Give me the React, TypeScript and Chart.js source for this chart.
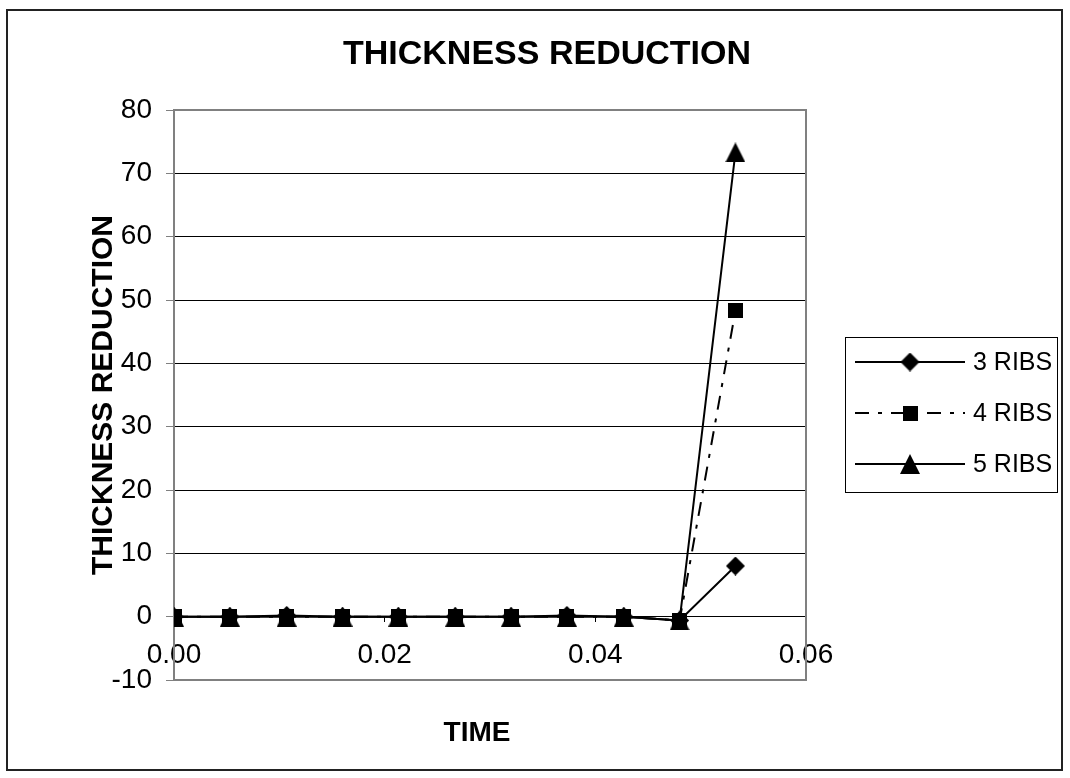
import React, { useEffect, useRef } from "react";
import { Chart, registerables } from "chart.js";

Chart.register(...registerables);

const TITLE = "THICKNESS REDUCTION";
const X_TITLE = "TIME";
const Y_TITLE = "THICKNESS REDUCTION";
const SERIES_NAMES = ["3 RIBS", "4 RIBS", "5 RIBS"];
const TIMES = [0, 0.0053, 0.0107, 0.016, 0.0213, 0.0267, 0.032, 0.0373, 0.0427, 0.048, 0.0533];
const RIBS3 = [0, 0, 0.2, 0, 0, 0, 0, 0.2, 0, -0.6, 8.0];
const RIBS4 = [0, 0, 0, 0, 0, 0, 0, 0, 0, -0.6, 48.3];
const RIBS5 = [0, 0, 0, 0, 0, 0, 0, 0, 0, -0.6, 73.3];
const X_MIN = 0;
const X_MAX = 0.06;
const X_STEP = 0.02;
const Y_MIN = -10;
const Y_MAX = 80;
const Y_STEP = 10;

const FONT = "'Liberation Sans', Arial, sans-serif";

function makeMarker(kind: string): HTMLCanvasElement {
  const c = document.createElement("canvas");
  const ctx = c.getContext("2d")!;
  if (kind === "diamond") {
    c.width = 19; c.height = 19;
    ctx.fillStyle = "#000";
    ctx.beginPath();
    ctx.moveTo(9.5, 0); ctx.lineTo(19, 9.5); ctx.lineTo(9.5, 19); ctx.lineTo(0, 9.5);
    ctx.closePath(); ctx.fill();
  } else if (kind === "square") {
    c.width = 15; c.height = 15;
    ctx.fillStyle = "#000";
    ctx.fillRect(0, 0, 15, 15);
  } else {
    c.width = 20; c.height = 20;
    ctx.fillStyle = "#000";
    ctx.beginPath();
    ctx.moveTo(10, 0); ctx.lineTo(20, 20); ctx.lineTo(0, 20);
    ctx.closePath(); ctx.fill();
  }
  return c;
}

export default function App() {
  const ref = useRef<HTMLCanvasElement>(null);
  useEffect(() => {
    const canvas = ref.current!;
    const markers = [makeMarker("diamond"), makeMarker("square"), makeMarker("triangle")];
    const dashes: number[][] = [[], [14, 9, 4, 9], []];
    const values = [RIBS3, RIBS4, RIBS5];

    const datasets = values.map((vals, i) => ({
      label: SERIES_NAMES[i],
      data: TIMES.map((t, j) => ({ x: t, y: vals[j] })),
      borderColor: "#000",
      backgroundColor: "#000",
      borderWidth: 2,
      borderDash: dashes[i],
      pointStyle: markers[i],
      pointRadius: 9,
      tension: 0,
      fill: false,
      order: 2 - i,
    }));

    const decor = {
      id: "decor",
      beforeDraw(chart: any) {
        const ctx = chart.ctx;
        ctx.save();
        ctx.fillStyle = "#fff";
        ctx.fillRect(0, 0, chart.width, chart.height);
        ctx.strokeStyle = "#222";
        ctx.lineWidth = 2;
        ctx.strokeRect(7, 10, 1055, 760);
        ctx.restore();
      },
      beforeDatasetsDraw(chart: any) {
        const { ctx, chartArea: a } = chart;
        ctx.save();
        ctx.strokeStyle = "#808080";
        ctx.lineWidth = 2;
        ctx.strokeRect(a.left, a.top, a.right - a.left, a.bottom - a.top);
        ctx.restore();
      },
      afterDraw(chart: any) {
        const ctx = chart.ctx;
        ctx.save();
        ctx.fillStyle = "#000";
        ctx.textAlign = "center";
        ctx.textBaseline = "middle";
        ctx.font = `bold 34px ${FONT}`;
        ctx.fillText(TITLE, 547, 55);
        ctx.font = `bold 28px ${FONT}`;
        ctx.fillText(X_TITLE, 477, 733);
        ctx.save();
        ctx.translate(104, 395);
        ctx.rotate(-Math.PI / 2);
        ctx.font = `bold 30px ${FONT}`;
        ctx.fillText(Y_TITLE, 0, 0);
        ctx.restore();

        // legend
        ctx.strokeStyle = "#000";
        ctx.lineWidth = 1;
        ctx.strokeRect(845.5, 337.5, 212, 155);
        chart.data.datasets.forEach((ds: any, i: number) => {
          const y = 362 + i * 51;
          ctx.save();
          ctx.strokeStyle = ds.borderColor;
          ctx.lineWidth = ds.borderWidth;
          ctx.setLineDash(ds.borderDash || []);
          ctx.beginPath();
          ctx.moveTo(855, y);
          ctx.lineTo(965, y);
          ctx.stroke();
          ctx.restore();
          const m = ds.pointStyle as HTMLCanvasElement;
          ctx.drawImage(m, 910 - m.width / 2, y - m.height / 2);
          ctx.textAlign = "left";
          ctx.textBaseline = "middle";
          ctx.font = `25px ${FONT}`;
          ctx.fillStyle = "#000";
          ctx.fillText(ds.label, 973, y + 1);
        });
        ctx.restore();
      },
    };

    const chart = new Chart(canvas, {
      type: "line",
      data: { datasets: datasets as any },
      options: {
        responsive: false,
        animation: false,
        layout: { padding: { top: 110, right: 264, bottom: 98, left: 0 } },
        plugins: {
          legend: { display: false },
          title: { display: false },
          tooltip: { enabled: false },
        },
        scales: {
          x: {
            type: "linear",
            min: X_MIN,
            max: X_MAX,
            position: { y: 0 } as any,
            border: { display: false },
            grid: {
              drawOnChartArea: false,
              drawTicks: true,
              tickLength: 5,
              tickColor: "#000",
              lineWidth: 1,
            },
            ticks: {
              stepSize: X_STEP,
              color: "#000",
              font: { family: FONT, size: 28 },
              padding: 17,
              maxRotation: 0,
              autoSkip: false,
              callback: (v: any) => Number(v).toFixed(2),
            },
          },
          y: {
            type: "linear",
            min: Y_MIN,
            max: Y_MAX,
            border: { display: false },
            grid: { color: "#000", lineWidth: 1, tickLength: 8, tickColor: "#808080" },
            ticks: {
              stepSize: Y_STEP,
              color: "#000",
              font: { family: FONT, size: 28 },
              padding: 14,
            },
            afterFit: (s: any) => {
              s.width = 174;
            },
          },
        },
      },
      plugins: [decor],
    });
    return () => chart.destroy();
  }, []);

  return (
    <div style={{ position: "absolute", left: 0, top: 0, width: 1070, height: 778 }}>
      <canvas ref={ref} width={1070} height={778} style={{ display: "block" }} />
    </div>
  );
}
